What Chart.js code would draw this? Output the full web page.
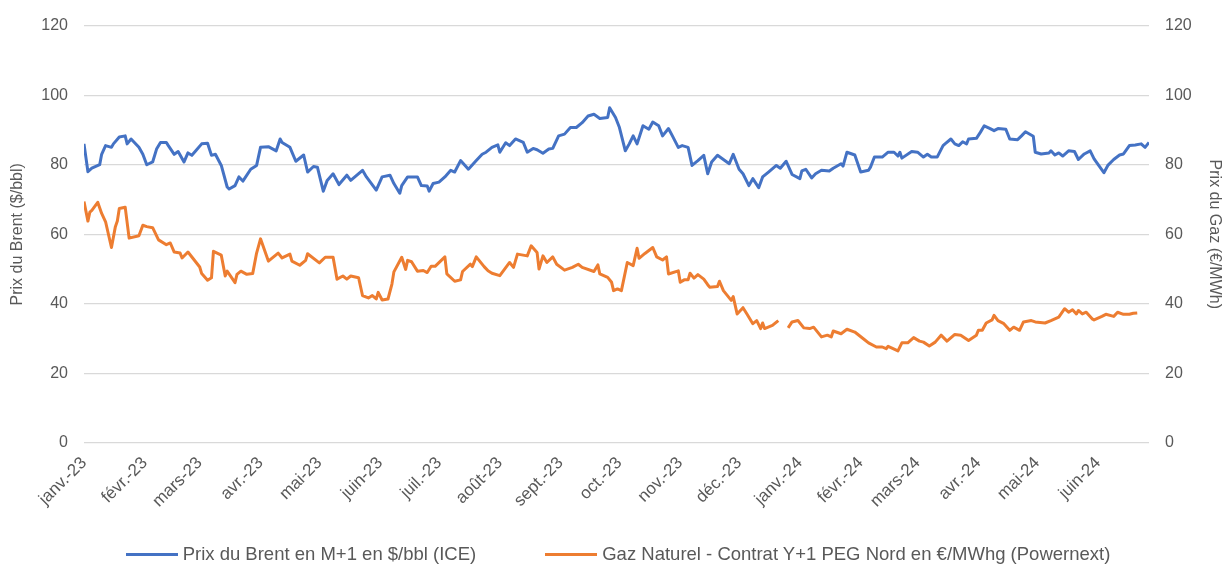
<!DOCTYPE html>
<html lang="fr">
<head>
<meta charset="utf-8">
<title>Brent et Gaz</title>
<script src="https://cdn.jsdelivr.net/npm/chart.js@4.4.1/dist/chart.umd.min.js"></script>
<style>
  html, body { margin: 0; padding: 0; background: #fff; }
  #cadre { position: relative; width: 1226px; height: 564px; overflow: hidden; }
  #legende {
    position: absolute; left: 5px; width: 1226px; top: 543px;
    display: flex; justify-content: center; gap: 69px;
    font: 18.5px 'Liberation Sans', Arial, sans-serif; color: #595959; line-height: 22px;
  }
  #legende span.trait { display: inline-block; width: 52px; height: 3px; vertical-align: middle; margin-right: 5px; position: relative; top: -1px; }
</style>
</head>
<body>
<div id="cadre">
  <canvas id="graphique" width="1226" height="564"></canvas>
  <div id="legende"></div>
</div>
<script>
// jours comptés depuis le 2 janv. 2023 (premier point)
const moisJours = [0, 31, 59, 90, 120, 151, 181, 212, 243, 273, 304, 334, 365, 396, 425, 456, 486, 517];
const moisLabels = ['janv.-23', 'févr.-23', 'mars-23', 'avr.-23', 'mai-23', 'juin-23', 'juil.-23', 'août-23',
  'sept.-23', 'oct.-23', 'nov.-23', 'déc.-23', 'janv.-24', 'févr.-24', 'mars-24', 'avr.-24', 'mai-24', 'juin-24'];

// Prix du Brent en M+1 ($/bbl)
const brentJours = [0, 2, 4, 8, 9, 11, 14, 15, 18, 21, 22, 24, 28, 30, 32, 35, 37, 39, 42, 43, 46, 48, 51, 53, 55, 57,
  60, 63, 65, 67, 70, 73, 74, 77, 79, 81, 85, 88, 90, 94, 98, 100, 101, 105, 108, 112, 114, 117, 119, 122, 124, 127,
  130, 134, 136, 142, 144, 149, 152, 156, 158, 161, 162, 165, 170, 172, 175, 176, 178, 181, 184, 187, 189, 192, 196,
  200, 203, 205, 208, 211, 212, 215, 217, 220, 224, 226, 229, 231, 234, 237, 239, 242, 245, 248, 251, 254, 257, 260,
  263, 267, 268, 271, 273, 276, 278, 280, 282, 285, 288, 290, 293, 295, 298, 300, 303, 305, 308, 310, 313, 316, 318,
  320, 323, 329, 331, 334, 336, 339, 341, 344, 346, 349, 353, 355, 358, 361, 365, 366, 368, 371, 373, 376, 380, 382,
  386, 387, 389, 393, 396, 400, 401, 403, 407, 410, 413, 415, 416, 417, 422, 425, 428, 430, 432, 435, 438, 439, 442,
  444, 446, 448, 450, 451, 455, 457, 459, 462, 464, 466, 470, 472, 476, 478, 480, 484, 485, 488, 492, 493, 495, 497,
  499, 502, 505, 507, 510, 513, 515, 520, 522, 525, 528, 530, 533, 536, 539, 541, 543];
const brentPrix = [86, 78, 79, 80, 83, 85.5, 85, 86, 88, 88.3, 86, 87.4, 85, 83, 80, 80.8, 84.5, 86.4, 86.4, 85.5, 83,
  83.8, 80.8, 83.4, 82.7, 84, 86, 86.2, 82.7, 83, 79.8, 73.6, 73, 74, 76.5, 75.3, 78.7, 79.8, 85, 85.2, 84, 87.4, 86.4,
  85, 81, 82.8, 77.9, 79.5, 79.3, 72.4, 75.5, 77.4, 74.3, 77, 75.5, 78.4, 76.5, 72.7, 76.5, 77, 74.6, 71.8, 74, 76.5,
  76.5, 74, 73.9, 72.4, 74.6, 75, 76.5, 78.4, 77.9, 81.2, 78.7, 81.2, 83, 83.6, 85, 85.7, 83.6, 86.3, 85.5, 87.4, 86.4,
  83.6, 84.7, 84.3, 83.3, 84.5, 84.7, 88.3, 88.8, 90.7, 90.7, 92.1, 94, 94.5, 93.3, 93.6, 96.4, 93.6, 90.7, 84, 86,
  88.3, 86, 91.2, 90.2, 92.3, 91.2, 88.3, 90.4, 88.3, 85, 85.5, 85, 79.8, 81.2, 82.7, 77.4, 80.8, 82.7, 80.3, 83, 78.7,
  77.4, 74, 76, 73.4, 76.5, 77.9, 79.8, 79, 81, 77.2, 76, 78.2, 78.7, 76.2, 77.4, 78.4, 78.2, 79, 80.3, 79.6, 83.6,
  82.8, 77.9, 78.4, 79.3, 82.2, 82.2, 83.6, 83.6, 82.5, 83.6, 81.9, 83.8, 83.6, 82.2, 83, 82.2, 82.2, 85.5, 86, 87.4,
  86, 85.5, 86.6, 86, 87.4, 87.6, 89.3, 91.2, 90.4, 89.8, 90.4, 90.2, 87.4, 87.2, 88.3, 89.5, 88.2, 83.6, 83.1, 83.4,
  84, 82.8, 83.4, 82.5, 84, 83.8, 81.5, 83.1, 84, 81.7, 77.7, 79.8, 81.5, 82.8, 83.1, 85.5, 85.7, 86, 85, 86.4];

// Gaz Naturel - Contrat Y+1 PEG Nord (€/MWh), null = trou de fin d'année
const gazJours = [0, 2, 3, 4, 7, 9, 11, 14, 16, 17, 18, 21, 23, 28, 30, 32, 35, 38, 42, 44, 46, 49, 50, 53, 59, 60, 63,
  65, 66, 70, 72, 73, 77, 78, 80, 83, 86, 88, 90, 94, 99, 101, 105, 106, 110, 113, 114, 120, 123, 127, 129, 132, 134,
  136, 140, 142, 145, 147, 149, 150, 152, 155, 157, 158, 162, 164, 165, 167, 170, 173, 175, 177, 179, 184, 185, 189,
  192, 193, 197, 198, 200, 204, 206, 208, 212, 217, 219, 221, 226, 228, 231, 232, 234, 236, 239, 241, 245, 249, 252,
  254, 260, 262, 263, 267, 269, 270, 272, 274, 277, 280, 282, 283, 286, 290, 292, 295, 297, 298, 303, 304, 306, 308,
  309, 311, 313, 316, 318, 319, 323, 324, 326, 330, 331, 333, 336, 338, 341, 343, 345, 346, 347, 351, 354, 357, 359,
  361, 364, 367, 370, 372, 376, 379, 381, 382, 386, 389, 393, 398, 400, 404, 407, 409, 410, 415, 417, 420, 423, 426,
  428, 431, 434, 437, 440, 444, 447, 451, 455, 456, 458, 460, 463, 464, 466, 469, 472, 474, 477, 479, 483, 485, 490,
  493, 497, 500, 502, 504, 506, 507, 509, 511, 514, 515, 519, 521, 525, 527, 530, 533, 535, 537];
const gazPrix = [69.4, 63.8, 66.4, 66.9, 69.2, 66, 63.6, 56.2, 62.2, 63.8, 67.4, 67.8, 58.9, 59.6, 62.6, 62.2, 61.9,
  58.4, 57, 57.5, 54.9, 54.6, 53.2, 54.9, 50.6, 48.7, 46.8, 47.5, 55.1, 54, 48, 49.4, 46.1, 48.5, 49.4, 48.5, 48.7,
  54.6, 58.7, 52.3, 54.6, 53.2, 54.3, 52.3, 51.1, 52.5, 54.4, 51.8, 53.4, 53.4, 47.1, 48, 47.1, 48, 47.5, 42.4, 41.7,
  42.4, 41.4, 43.3, 41.1, 41.4, 45.7, 49.2, 53.4, 49.9, 52.5, 52.1, 49.4, 49.6, 49, 50.8, 50.8, 53.5, 48.6, 46.5, 46.9,
  49.3, 51.4, 50.7, 53.5, 50.7, 49.5, 48.8, 48.1, 51.9, 50.5, 54.3, 53.8, 56.7, 54.8, 50, 53.8, 51.9, 53.5, 51.4, 49.7,
  50.5, 51.4, 50.5, 49.3, 51.2, 48.6, 47.6, 46.2, 43.8, 44.3, 43.8, 51.9, 51, 56, 53.1, 54.5, 56.2, 53.5, 52.6, 53.5,
  48.6, 49.5, 46.2, 46.9, 46.9, 48.8, 47.4, 48.4, 47.1, 45.5, 44.8, 45, 46.5, 43.8, 41, 42.1, 37.1, 38.9, 37.1, 34.3,
  35.2, 32.9, 34.5, 32.9, 33.8, 35.2, null, 33.1, 34.8, 35.2, 33.1, 32.9, 33.3, 30.5, 31, 30.5, 32.2, 31.4, 32.7, 31.9,
  29.7, 28.8, 27.6, 27.6, 27.1, 27.8, 26.5, 28.8, 28.8, 30.3, 29.3, 29, 27.9, 29, 31, 29.3, 31.2, 31, 29.5, 31, 32.4,
  32.4, 34.5, 35.4, 36.7, 35.2, 34.3, 32.4, 33.3, 32.4, 34.8, 35.2, 34.8, 34.5, 35.2, 36.2, 38.6, 37.6, 38.3, 37.1,
  38.1, 37.1, 37.6, 35.7, 35.4, 36.4, 37, 36.4, 37.6, 37, 37, 37.3, 37.4];

const nomBrent = 'Prix du Brent en M+1 en $/bbl (ICE)';
const nomGaz = 'Gaz Naturel - Contrat Y+1 PEG Nord en €/MWhg (Powernext)';
const bleu = '#4472C4';
const orange = '#ED7D31';
const gris = '#595959';

Chart.defaults.font.family = "'Liberation Sans', Arial, sans-serif";
Chart.defaults.font.size = 16;
Chart.defaults.color = gris;

const ctx = document.getElementById('graphique').getContext('2d');
new Chart(ctx, {
    type: 'line',
    data: {
        datasets: [{
            label: nomBrent,
            data: brentJours.map((j, i) => ({ x: j, y: brentPrix[i] })),
            borderColor: bleu,
            backgroundColor: bleu,
            borderWidth: 3,
            pointRadius: 0,
            borderJoinStyle: 'round',
            yAxisID: 'y'
        }, {
            label: nomGaz,
            data: gazJours.map((j, i) => ({ x: j, y: gazPrix[i] })),
            borderColor: orange,
            backgroundColor: orange,
            borderWidth: 3,
            pointRadius: 0,
            borderJoinStyle: 'round',
            spanGaps: false,
            yAxisID: 'y2'
        }]
    },
    options: {
        responsive: false,
        animation: false,
        devicePixelRatio: 1,
        layout: { padding: { top: 22, left: 0, right: 0, bottom: 0 } },
        plugins: { legend: { display: false }, tooltip: { enabled: false } },
        scales: {
            x: {
                type: 'linear',
                min: 0,
                max: 543,
                grid: { display: false },
                border: { display: false },
                afterBuildTicks: s => { s.ticks = moisJours.map(v => ({ value: v })); },
                afterFit: s => { s.height = 121; },
                ticks: {
                    autoSkip: false,
                    minRotation: 45,
                    maxRotation: 45,
                    padding: 2,
                    font: { size: 17 },
                    callback: v => moisLabels[moisJours.indexOf(v)]
                }
            },
            y: {
                position: 'left',
                min: 0,
                max: 120,
                afterFit: s => { s.width = 84; },
                ticks: { stepSize: 20, padding: 16 },
                grid: { color: '#d9d9d9', lineWidth: 1.3, drawTicks: false },
                border: { display: false },
                title: { display: true, text: 'Prix du Brent ($/bbl)', padding: { top: 8, bottom: 0 } }
            },
            y2: {
                position: 'right',
                min: 0,
                max: 120,
                afterFit: s => { s.width = 77; },
                ticks: { stepSize: 20, padding: 16 },
                grid: { display: false, drawTicks: false },
                border: { display: false },
                title: { display: true, text: 'Prix du Gaz (€/MWh)', padding: { top: 2, bottom: 0 } }
            }
        }
    }
});

// légende sous le graphique
const legende = document.getElementById('legende');
[[nomBrent, bleu], [nomGaz, orange]].forEach(([texte, couleur]) => {
    const item = document.createElement('div');
    const trait = document.createElement('span');
    trait.className = 'trait';
    trait.style.background = couleur;
    item.appendChild(trait);
    item.appendChild(document.createTextNode(texte));
    legende.appendChild(item);
});
</script>
</body>
</html>
